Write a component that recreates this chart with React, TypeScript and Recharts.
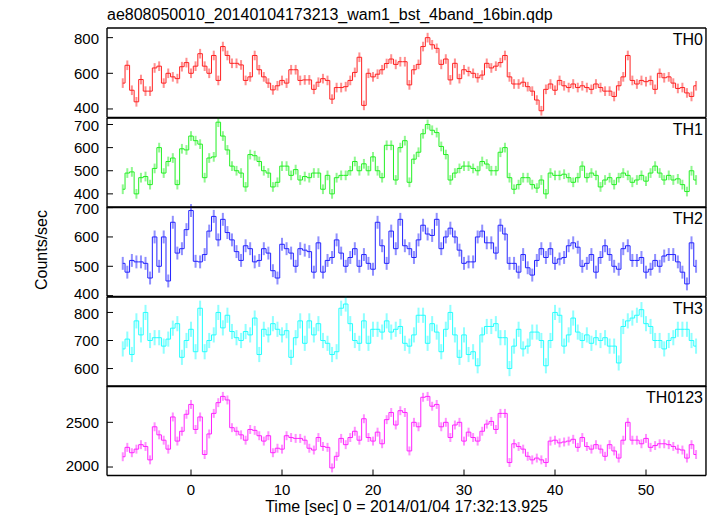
import React from 'react';
import { LineChart, Line, XAxis, YAxis, ErrorBar } from 'recharts';

// bin grid of the light curve (0.5 s bins, first bin centre at -7.5 s)
const T_START = -7.5;
const T_BIN = 0.5;

const th0 = [
  545, 645, 505, 440, 565, 500, 500, 630, 640, 545, 600, 580, 570, 637, 660, 600, 640, 710, 640, 600,
  700, 560, 750, 700, 656, 656, 647, 560, 580, 700, 620, 580, 545, 507, 530, 560, 545, 620, 620, 560,
  563, 563, 510, 550, 570, 560, 455, 520, 520, 525, 560, 605, 690, 420, 600, 580, 595, 620, 655, 680,
  650, 665, 665, 535, 620, 650, 750, 800, 760, 740, 650, 680, 563, 656, 570, 620, 610, 600, 575, 590,
  656, 630, 640, 660, 700, 580, 540, 540, 550, 525, 500, 450, 390, 510, 540, 505, 560, 530, 520, 540,
  520, 530, 520, 510, 540, 520, 500, 500, 470, 530, 580, 700, 560, 540, 560, 553, 560, 510, 600, 575,
  580, 545, 515, 520, 490, 470, 530,
];
const th1 = [
  420, 490, 495, 400, 470, 475, 440, 510, 600, 490, 540, 555, 440, 595, 590, 650, 630, 615, 470, 555,
  560, 710, 650, 590, 520, 500, 490, 430, 570, 565, 540, 500, 490, 430, 450, 520, 520, 480, 505, 460,
  475, 470, 490, 490, 420, 480, 400, 470, 480, 480, 500, 540, 500, 530, 500, 560, 500, 470, 610, 610,
  460, 600, 630, 450, 550, 580, 660, 700, 675, 665, 605, 570, 460, 490, 510, 520, 520, 510, 500, 540,
  529, 500, 500, 580, 600, 470, 420, 440, 470, 470, 440, 425, 460, 400, 490, 480, 480, 485, 470, 450,
  470, 520, 470, 490, 480, 430, 460, 470, 440, 470, 490, 480, 450, 460, 480, 455, 490, 520, 490, 460,
  480, 460, 465, 440, 410, 500, 460,
];
const th2 = [
  510, 480, 520, 515, 515, 510, 460, 600, 500, 600, 450, 650, 545, 560, 625, 690, 517, 515, 540, 620,
  670, 590, 660, 615, 590, 550, 520, 570, 560, 515, 520, 560, 545, 485, 460, 575, 560, 545, 500, 560,
  555, 550, 480, 580, 480, 520, 530, 590, 545, 500, 530, 560, 500, 540, 510, 490, 650, 570, 510, 620,
  560, 660, 570, 560, 530, 590, 640, 610, 605, 660, 560, 600, 630, 600, 555, 510, 515, 515, 600, 620,
  580, 580, 545, 640, 610, 510, 510, 480, 540, 495, 470, 520, 560, 530, 560, 510, 525, 530, 570, 580,
  565, 500, 510, 540, 480, 530, 570, 540, 500, 490, 560, 570, 520, 520, 530, 480, 490, 520, 500, 535,
  540, 540, 515, 480, 440, 580, 500,
];
const th3 = [
  670, 705, 650, 770, 720, 800, 700, 710, 710, 680, 705, 744, 760, 640, 700, 740, 660, 815, 660, 700,
  720, 800, 745, 790, 732, 710, 700, 732, 720, 780, 650, 740, 720, 760, 740, 720, 735, 640, 710, 770,
  690, 770, 720, 760, 700, 690, 650, 660, 815, 830, 760, 700, 690, 770, 690, 740, 740, 730, 770, 730,
  740, 750, 690, 680, 720, 790, 790, 690, 760, 730, 660, 740, 800, 720, 640, 720, 650, 660, 610, 720,
  750, 750, 760, 710, 710, 600, 680, 740, 670, 680, 730, 730, 700, 610, 700, 800, 790, 680, 720, 780,
  730, 700, 720, 690, 710, 700, 710, 680, 680, 620, 750, 770, 780, 790, 810, 760, 750, 700, 700, 670,
  700, 710, 740, 740, 740, 700, 680,
];
const th0123 = [
  2115, 2220, 2160, 2200, 2250, 2230, 2080, 2450, 2360, 2300, 2200, 2560, 2290, 2400, 2590, 2700, 2420, 2560, 2140, 2370,
  2600, 2720, 2790, 2750, 2440, 2400, 2360, 2300, 2420, 2410, 2350, 2290, 2350, 2160, 2210, 2200, 2350, 2330, 2320, 2320,
  2300, 2210, 2190, 2330, 2230, 2220, 1990, 2120, 2320, 2250, 2330, 2400, 2300, 2540, 2330, 2290, 2390, 2260, 2530, 2610,
  2470, 2630, 2610, 2180, 2500, 2450, 2780, 2790, 2680, 2700, 2450, 2500, 2330, 2470, 2500, 2290, 2390, 2330, 2290, 2400,
  2480, 2510, 2420, 2600, 2600, 2050, 2260, 2230, 2200, 2120, 2080, 2100, 2080, 2050, 2290, 2300, 2270, 2280, 2290, 2310,
  2220, 2330, 2230, 2200, 2250, 2200, 2120, 2250, 2180, 2100, 2300, 2500, 2300, 2300, 2260, 2320, 2220, 2240, 2260, 2260,
  2250, 2230, 2200, 2190, 2100, 2250, 2140,
];

// typical 1-sigma error of each band
const errTH0 = 27;
const errTH1 = 21;
const errTH2 = 22;
const errTH3 = 27;
const errTH0123 = 50;

const xMajor = [0, 10, 20, 30, 40, 50];
const xMinor = [-8, -6, -4, -2, 2, 4, 6, 8, 12, 14, 16, 18, 22, 24, 26, 28, 32, 34, 36, 38, 42, 44, 46, 48, 52, 54, 56];

const FONT = '"Liberation Sans", Arial, Helvetica, sans-serif';
const X_DOMAIN: [number, number] = [-9.23, 56.59];
const PLOT_LEFT = 107;
const PLOT_RIGHT = 706;
const PANEL_TOP = 28;
const PANEL_H = 89.5;
const PAD = 10;
const AX = 0.01; // axes take (almost) no room, margins place the plot box

const panels = [
  { name: 'TH0', values: th0, err: errTH0, color: '#ff2020', domain: [352, 854], major: [400, 600, 800], minor: [400, 500, 600, 700, 800] },
  { name: 'TH1', values: th1, err: errTH1, color: '#22f022', domain: [341, 728], major: [400, 500, 600, 700], minor: [350, 375, 425, 450, 475, 525, 550, 575, 625, 650, 675, 725] },
  { name: 'TH2', values: th2, err: errTH2, color: '#2222ff', domain: [397, 702], major: [400, 500, 600, 700], minor: [450, 550, 650] },
  { name: 'TH3', values: th3, err: errTH3, color: '#22ffff', domain: [536, 855], major: [600, 700, 800], minor: [550, 575, 625, 650, 675, 725, 750, 775, 825, 850] },
  { name: 'TH0123', values: th0123, err: errTH0123, color: '#ff22ff', domain: [1905, 2906], major: [2000, 2500], minor: [2100, 2200, 2300, 2400, 2600, 2700, 2800, 2900] },
];

const frame = { stroke: '#000', strokeWidth: 1.4 };
const tickLine = { stroke: '#000', strokeWidth: 1 };
const label = { fill: '#000', fontSize: 15, fontFamily: FONT };

// y tick labels sitting on a panel edge are nudged a little so neighbours don't collide
const YTick = ({ x, y, payload }: any) => {
  let dy = 0;
  if (y > PAD + PANEL_H - 12) dy = -1.5;
  if (y < PAD + 20) dy = 1.5;
  return (
    <text x={x} y={y + dy} dy="0.355em" textAnchor="end" fill="#000" fontSize={15} fontFamily={FONT}>
      {payload.value}
    </text>
  );
};

const Panel = ({ p, index, last }: any) => {
  const bottom = last ? 34 : PAD;
  const top = PANEL_TOP + index * PANEL_H;
  const rows = p.values.map((v: number, i: number) => ({ t: T_START + i * T_BIN, v, e: p.err }));
  return (
    <div style={{ position: 'absolute', left: 0, top: top - PAD }}>
      <LineChart
        width={717}
        height={PANEL_H + PAD + bottom + 4 * AX}
        data={rows}
        margin={{ top: PAD, right: 717 - PLOT_RIGHT - 2 * AX, bottom, left: PLOT_LEFT - 2 * AX }}
      >
        <XAxis xAxisId="b" dataKey="t" type="number" domain={X_DOMAIN} allowDataOverflow ticks={xMinor} interval={0}
          height={AX} tick={false} tickSize={-3} axisLine={frame} tickLine={tickLine} />
        <XAxis xAxisId="bM" dataKey="t" type="number" domain={X_DOMAIN} allowDataOverflow ticks={xMajor} interval={0}
          height={AX} tick={last ? label : false} tickSize={-6} tickMargin={15} axisLine={false} tickLine={tickLine} />
        <XAxis xAxisId="t" dataKey="t" orientation="top" type="number" domain={X_DOMAIN} allowDataOverflow ticks={xMinor} interval={0}
          height={AX} tick={false} tickSize={-3} axisLine={frame} tickLine={tickLine} />
        <XAxis xAxisId="tM" dataKey="t" orientation="top" type="number" domain={X_DOMAIN} allowDataOverflow ticks={xMajor} interval={0}
          height={AX} tick={false} tickSize={-6} axisLine={false} tickLine={tickLine} />
        <YAxis yAxisId="l" type="number" domain={p.domain} allowDataOverflow ticks={p.minor} interval={0}
          width={AX} tick={false} tickSize={-3} axisLine={frame} tickLine={tickLine} />
        <YAxis yAxisId="lM" type="number" domain={p.domain} allowDataOverflow ticks={p.major} interval={0}
          width={AX} tick={<YTick />} tickSize={-6} tickMargin={14} axisLine={false} tickLine={tickLine} />
        <YAxis yAxisId="r" orientation="right" type="number" domain={p.domain} allowDataOverflow ticks={p.minor} interval={0}
          width={AX} tick={false} tickSize={-3} axisLine={frame} tickLine={tickLine} />
        <YAxis yAxisId="rM" orientation="right" type="number" domain={p.domain} allowDataOverflow ticks={p.major} interval={0}
          width={AX} tick={false} tickSize={-6} axisLine={false} tickLine={tickLine} />
        <Line xAxisId="b" yAxisId="l" dataKey="v" type="step" stroke={p.color} strokeWidth={1} dot={false} isAnimationActive={false}>
          <ErrorBar dataKey="e" width={0} stroke={p.color} strokeOpacity={0.5} strokeWidth={2} direction="y" />
        </Line>
      </LineChart>
      <div style={{ position: 'absolute', left: 560, width: 143, top: PAD + 4, textAlign: 'right', fontFamily: FONT, fontSize: 16, lineHeight: '16px', color: '#000' }}>
        {p.name}
      </div>
    </div>
  );
};

export default function App() {
  return (
    <div style={{ position: 'absolute', left: 0, top: 0, width: 717, height: 516, background: '#fff', fontFamily: FONT }}>
      <div style={{ position: 'absolute', left: PLOT_LEFT, top: 7, fontSize: 16, lineHeight: '16px', whiteSpace: 'nowrap' }}>
        ae808050010_20140104173213_wam1_bst_4band_16bin.qdp
      </div>
      {panels.map((p, i) => (
        <Panel key={p.name} p={p} index={i} last={i === panels.length - 1} />
      ))}
      <div style={{ position: 'absolute', left: 0, width: 813, top: 499, textAlign: 'center', fontSize: 16, lineHeight: '16px', whiteSpace: 'nowrap' }}>
        Time [sec] 0 = 2014/01/04 17:32:13.925
      </div>
      <div style={{ position: 'absolute', left: 42, top: 250, transform: 'translate(-50%, -50%) rotate(-90deg)', fontSize: 16, lineHeight: '16px', whiteSpace: 'nowrap' }}>
        Counts/sec
      </div>
    </div>
  );
}
